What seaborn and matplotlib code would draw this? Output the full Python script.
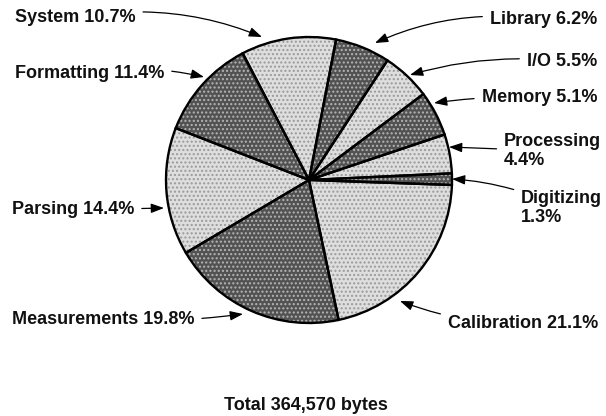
import matplotlib
matplotlib.use("Agg")
import matplotlib.pyplot as plt
import seaborn as sns

sns.set_theme(style="white")
plt.rcParams["font.family"] = ["Liberation Sans", "DejaVu Sans"]

# Program size breakdown, counterclockwise from the right
modules = ["Digitizing", "Processing", "Memory", "I/O", "Library",
           "System", "Formatting", "Parsing", "Measurements", "Calibration"]
shares = [1.3, 4.4, 5.1, 5.5, 6.2, 10.7, 11.4, 14.4, 19.8, 21.1]
total_bytes = 364570

light, dark = "#dedede", "#525252"
fills = [dark if i % 2 == 0 else light for i in range(len(shares))]
speckle = ["#b5b5b5" if i % 2 == 0 else "#9a9a9a" for i in range(len(shares))]

fig = plt.figure(figsize=(6.06, 4.16), dpi=100)
ax = fig.add_axes([0, 0, 1, 1])

cx, cy, r = 309, 180, 143
common = dict(center=(cx, cy), radius=r, startangle=2, counterclock=False)
# stippled fills
wedges, _ = ax.pie(shares, colors=fills, wedgeprops=dict(linewidth=0), **common)
for w, sc in zip(wedges, speckle):
    w.set_hatch("....")
    w.set_edgecolor(sc)
    w.set_linewidth(0)
# outlines
ax.pie(shares, colors=["none"] * len(shares),
       wedgeprops=dict(linewidth=1.7, edgecolor="black", fill=False), **common)

ax.set_xlim(0, 606)
ax.set_ylim(416, 0)
ax.set_aspect("equal")
ax.axis("off")

fs = 13
arrow = dict(arrowstyle="-|>,head_length=0.6,head_width=0.22", color="black",
             lw=0.9, shrinkA=3, shrinkB=0)

def label(text, xy, xytext, ha, rad):
    ax.annotate(text, xy=xy, xytext=xytext, ha=ha, va="center", fontsize=fs,
                fontweight="bold", color="#111111", linespacing=1.2,
                arrowprops=dict(connectionstyle=f"arc3,rad={rad}", **arrow))

def pct(i):
    return f"{modules[i]} {shares[i]}%"

label(pct(5), (262, 37), (15, 18), "left", -0.15)
label(pct(6), (204, 77), (15, 73), "left", -0.1)
label(pct(7), (164, 208), (12, 210), "left", 0.0)
label(pct(8), (243, 314), (12, 319), "left", 0.05)
label(pct(4), (375, 43), (597, 20), "right", 0.15)
label(pct(3), (410, 75), (597, 61), "right", 0.1)
label(pct(2), (434, 103), (597, 98), "right", 0.05)
label(f"{modules[1]}\n{shares[1]}%", (449, 147), (504, 151), "left", 0.0)
label(f"{modules[0]}\n{shares[0]}%", (452, 179), (521, 208), "left", 0.1)
label(pct(9), (400, 301), (598, 323), "right", -0.1)

ax.text(306, 406, f"Total {total_bytes:,} bytes", ha="center", va="center",
        fontsize=fs, fontweight="bold", color="#111111")

fig.savefig("out.png", dpi=100, facecolor="white")
